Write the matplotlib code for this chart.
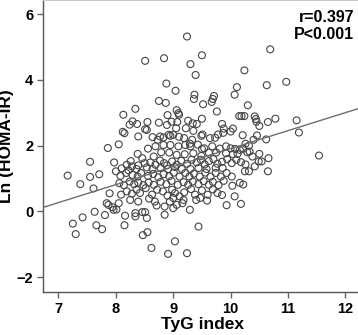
import matplotlib
matplotlib.use("Agg")
import matplotlib.pyplot as plt
import numpy as np

# ---- data ----
tyg = [
    9.24, 10.69, 8.51, 8.84, 9.50, 9.30, 9.39, 10.24, 10.97, 10.63, 8.88, 9.04, 10.11, 10.07,
    9.37, 9.71, 9.69, 9.36, 9.67, 8.75, 8.87, 9.52, 10.30, 8.34, 9.06, 9.09, 9.10, 8.90, 9.76,
    8.13, 10.15, 10.19, 10.24, 10.42, 10.44, 10.45, 10.78, 11.15, 11.19, 11.54, 10.65, 10.50,
    8.29, 8.24, 8.37, 8.55, 8.75, 8.97, 9.07, 9.26, 9.34, 9.41, 9.50, 9.85, 9.88, 10.04, 10.00,
    9.87, 10.21, 10.46, 10.62, 9.78, 8.12, 8.15, 8.39, 8.05, 8.51, 8.54, 8.64, 8.77, 8.73, 8.83,
    8.92, 8.95, 9.00, 9.10, 9.19, 9.33, 9.49, 9.51, 9.64, 9.73, 7.86, 7.55, 7.97, 7.16, 7.38,
    7.55, 7.71, 7.61, 8.00, 7.25, 7.30, 7.42, 7.63, 7.66, 7.76, 7.81, 7.84, 7.87, 7.89, 7.94,
    7.96, 8.01, 8.05, 8.16, 8.15, 8.34, 8.34, 8.46, 8.51, 8.54, 8.47, 8.55, 8.62, 8.91, 9.03,
    9.24, 9.44, 8.85, 8.71, 8.85, 8.94, 9.00, 9.06, 9.16, 9.29, 9.40, 9.47, 9.59, 9.77, 9.85,
    9.93, 10.03, 10.07, 10.18, 10.16, 10.22, 10.65, 10.66, 10.54, 10.49, 10.50, 10.32, 10.25,
    10.42, 10.38, 10.33, 10.32, 10.40, 10.26, 10.22,
    8.56, 8.69, 8.83, 8.95, 9.09, 9.21, 9.29, 9.30, 9.43, 9.50, 9.54, 9.68, 9.81, 9.92, 10.00,
    10.08, 10.16, 10.29, 10.12, 10.04, 9.92, 9.75, 9.62, 9.49, 9.35, 9.20, 9.06, 8.93, 8.79,
    8.66, 8.46, 8.38,
    8.26, 8.19, 8.28, 8.39, 8.50, 8.60, 8.69, 8.77, 8.84, 8.89, 8.98, 9.06, 9.14, 9.24, 9.32,
    9.41, 9.48, 9.55, 9.62, 9.70, 9.77, 9.85, 9.94, 10.02, 10.10, 10.18, 10.26, 9.86, 9.74,
    9.58, 9.44, 9.30, 9.15, 9.03, 8.91, 8.78, 8.64, 8.54, 8.36, 8.22, 8.10,
    8.08, 8.18, 8.29, 8.38, 8.44, 8.56, 8.65, 8.74, 8.83, 8.93, 9.01, 9.11, 9.21, 9.28, 9.36,
    9.46, 9.56, 9.65, 9.74, 9.83, 9.93, 10.02, 8.06, 8.14, 8.24, 8.32, 8.39, 8.48, 8.57, 8.66,
    8.78, 8.88, 8.97, 9.08, 9.18, 9.26, 9.34, 9.44, 9.53, 9.62, 9.69, 9.79, 9.88,
    8.09, 8.19, 8.28, 8.36, 8.42, 8.52, 8.63, 8.72, 8.82, 8.90, 8.98, 9.03, 9.11, 9.19, 9.31,
    9.38, 9.50, 9.60, 9.69, 9.00, 9.18, 8.25, 8.39, 8.58, 8.68,
    9.22, 9.35, 9.05, 8.89,
]
ln_homa = [
    5.32, 4.93, 4.58, 4.66, 4.75, 4.48, 4.15, 4.29, 3.94, 3.84, 3.89, 3.67, 3.78, 3.55,
    3.55, 3.51, 3.42, 3.42, 3.33, 3.36, 3.30, 3.26, 3.23, 3.12, 3.08, 2.99, 2.94, 2.93, 3.04,
    2.94, 2.90, 2.90, 2.90, 2.89, 2.81, 2.73, 2.82, 2.77, 2.40, 1.70, 2.72, 2.60,
    2.74, 2.64, 2.66, 2.72, 2.70, 2.73, 2.72, 2.76, 2.68, 2.66, 2.82, 2.66, 2.52, 2.52, 2.43,
    2.39, 2.32, 2.31, 2.19, 2.34, 2.42, 2.38, 2.28, 2.04, 2.50, 2.48, 2.26, 2.28, 2.18, 2.25,
    2.33, 2.30, 2.33, 2.27, 2.23, 2.18, 2.30, 2.34, 2.23, 2.24, 1.93, 1.51, 1.49, 1.09, 0.83,
    1.05, 1.13, 0.70, 1.22, -0.37, -0.69, -0.18, -0.01, -0.42, -0.54, -0.11, 0.25, 0.20, 0.55, 0.13,
    0.05, 0.06, 0.25, -0.13, -0.42, -0.05, -0.15, -0.02, -0.02, -0.20, -0.72, -0.63, -1.11, -1.29, -0.91,
    -1.27, -0.46, -0.10, 0.18, 0.15, 0.30, 0.10, 0.20, 0.25, 0.05, 0.35, 0.41, 0.33, 0.56, 0.50,
    0.19, 0.78, 0.46, 0.23, 0.87, 0.82, 1.22, 1.62, 1.52, 1.52, 1.75, 1.22, 1.22,
    1.37, 1.67, 1.82, 2.00, 2.18, 2.06, 1.91,
    1.91, 1.98, 2.02, 2.02, 1.98, 2.02, 2.06, 1.98, 2.03, 1.90, 1.92, 1.98, 1.91, 1.98, 1.92,
    1.90, 1.87, 1.80, 1.75, 1.74, 1.77, 1.79, 1.79, 1.69, 1.77, 1.74, 1.72, 1.79, 1.80,
    1.67, 1.62, 1.75,
    1.53, 1.42, 1.37, 1.40, 1.47, 1.49, 1.42, 1.55, 1.47, 1.40, 1.52, 1.42, 1.54, 1.45, 1.57,
    1.49, 1.57, 1.43, 1.53, 1.59, 1.45, 1.51, 1.59, 1.47, 1.57, 1.50, 1.43, 1.32, 1.33,
    1.29, 1.32, 1.29, 1.29, 1.35, 1.29, 1.32, 1.29, 1.34, 1.29, 1.25, 1.31,
    1.08, 1.17, 1.11, 1.06, 1.17, 1.08, 1.14, 1.04, 1.13, 1.07, 1.18, 1.06, 1.17, 1.06, 1.15,
    1.06, 1.18, 1.06, 1.17, 1.06, 1.17, 1.06, 0.86, 0.80, 0.91, 0.83, 0.88, 0.80, 0.88, 0.81,
    0.90, 0.83, 0.93, 0.81, 0.89, 0.81, 0.91, 0.83, 0.92, 0.81, 0.90, 0.80, 0.93,
    0.51, 0.61, 0.54, 0.66, 0.56, 0.71, 0.51, 0.66, 0.61, 0.48, 0.66, 0.56, 0.46, 0.58, 0.68,
    0.51, 0.64, 0.51, 0.67, 0.41, 0.35, 0.35, 0.30, 0.39, 0.30,
    2.53, 2.45, 2.53, 2.63,
]
fit_intercept = -3.56
fit_slope = 0.547
x_ticks = [7, 8, 9, 10, 11, 12]
y_ticks = [-2, 0, 2, 4, 6]
stats_text = "r=0.397\nP<0.001"

plt.rcParams['font.family'] = ['Liberation Sans', 'DejaVu Sans']

fig = plt.figure(figsize=(3.58, 3.35), dpi=100)
ax = fig.add_axes([43/358, 43/335, (362-43)/358, 292/335])

ax.scatter(tyg, ln_homa, s=25, facecolors='none', edgecolors='#454545',
           linewidths=0.8, zorder=2)
ax.axline((0, fit_intercept), slope=fit_slope, color='#6e6e6e', lw=1.0, zorder=3)

ax.set_xlim(6.73, 12.29)
ax.set_ylim(-2.45, 6.43)
ax.set_xticks(x_ticks)
ax.set_yticks(y_ticks)
ax.tick_params(direction='out', length=4, width=1, color='#666666',
               labelsize=10.5, pad=3)
for lab in ax.get_xticklabels() + ax.get_yticklabels():
    lab.set_fontweight('bold')

for s in ['left', 'bottom']:
    ax.spines[s].set_color('#555555')
    ax.spines[s].set_linewidth(1.0)
ax.spines['top'].set_color('#cccccc')
ax.spines['right'].set_visible(False)

ax.set_xlabel('TyG index', fontsize=12.5, fontweight='bold', labelpad=1)
ax.set_ylabel('Ln (HOMA-IR)', fontsize=12.5, fontweight='bold', labelpad=2)

ax.text(0.975, 0.965, stats_text, transform=ax.transAxes, ha='right', va='top',
        fontsize=11.5, fontweight='bold', linespacing=1.15)

fig.savefig('out.png', dpi=100)
